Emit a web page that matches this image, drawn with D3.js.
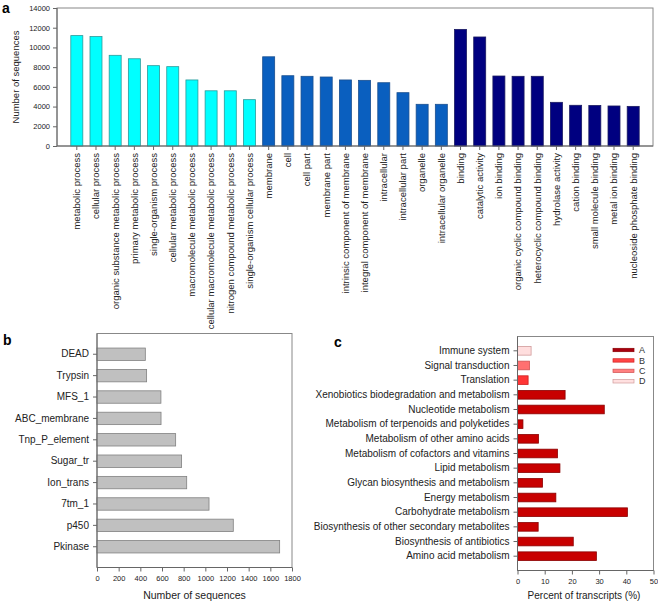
<!DOCTYPE html>
<html><head><meta charset="utf-8">
<script src="https://cdn.jsdelivr.net/npm/d3@7"></script>
<style>body{margin:0;background:#fff}svg{font-family:"Liberation Sans",Arial,sans-serif}</style>
</head><body><svg id="c" width="658" height="602"></svg>
<script>
// Panel a
const goCategories = ["metabolic process","cellular process","organic substance metabolic process","primary metabolic process","single-organism process","cellular metabolic process","macromolecule metabolic process","cellular macromolecule metabolic process","nitrogen compound metabolic process","single-organism cellular process","membrane","cell","cell part","membrane part","intrinsic component of membrane","integral component of membrane","intracellular","intracellular part","organelle","intracellular organelle","binding","catalytic activity","ion binding","organic cyclic compound binding","heterocyclic compound binding","hydrolase activity","cation binding","small molecule binding","metal ion binding","nucleoside phosphate binding"];
const goValues = [11200,11100,9200,8850,8150,8050,6700,5600,5600,4700,9050,7130,7070,7000,6700,6660,6420,5410,4230,4230,11830,11060,7100,7070,7070,4430,4130,4110,4060,4020];
const goGroups = ["BP","BP","BP","BP","BP","BP","BP","BP","BP","BP","CC","CC","CC","CC","CC","CC","CC","CC","CC","CC","MF","MF","MF","MF","MF","MF","MF","MF","MF","MF"];
const goTicks = [0,2000,4000,6000,8000,10000,12000,14000];
// Panel b
const domains = ["DEAD","Trypsin","MFS_1","ABC_membrane","Tnp_P_element","Sugar_tr","Ion_trans","7tm_1","p450","Pkinase"];
const domainValues = [446,458,590,591,726,781,828,1034,1258,1686];
const domainTicks = [0,200,400,600,800,1000,1200,1400,1600,1800];
// Panel c
const pathways = ["Immune system","Signal transduction","Translation","Xenobiotics biodegradation and metabolism","Nucleotide metabolism","Metabolism of terpenoids and polyketides","Metabolism of other amino acids","Metabolism of cofactors and vitamins","Lipid metabolism","Glycan biosynthesis and metabolism","Energy metabolism","Carbohydrate metabolism","Biosynthesis of other secondary metabolites","Biosynthesis of antibiotics","Amino acid metabolism"];
const pathwayValues = [5.0,4.4,3.9,17.5,31.9,2.0,7.7,14.7,15.6,9.2,14.1,40.4,7.6,20.5,29.0];
const pathwayClass = ["D","C","B","A","A","A","A","A","A","A","A","A","A","A","A"];
const classes = ["A","B","C","D"];
const pathwayTicks = [0,10,20,30,40,50];

const svg = d3.select("#c");
const axisCol = "#666", frameCol = "#888";
const fmt = d3.format("d");

function styleAxis(g){
  g.selectAll(".domain").remove();
  g.selectAll("line").attr("stroke",axisCol);
  g.selectAll("text").attr("fill","#222");
}

// ---------- Panel a ----------
{
  const L=57,R=653,T=8,B=146;
  const x = d3.scaleBand().domain(goCategories).range([L,R]).paddingInner(0.375).paddingOuter(0.72);
  const y = d3.scaleLinear().domain([0,14000]).range([B,T]);
  const fill = {BP:"#00ffff",CC:"#0a5fbf",MF:"#000080"};
  const stroke = {BP:"#2a9a9a",CC:"#1a4f8f",MF:"#1a1a60"};
  svg.append("rect").attr("x",L).attr("y",T).attr("width",R-L).attr("height",B-T).attr("fill","none").attr("stroke",frameCol);
  svg.append("g").selectAll("rect").data(goCategories).join("rect")
    .attr("x",d=>x(d)).attr("width",x.bandwidth())
    .attr("y",(d,i)=>y(goValues[i])).attr("height",(d,i)=>B-y(goValues[i]))
    .attr("fill",(d,i)=>fill[goGroups[i]]).attr("stroke",(d,i)=>stroke[goGroups[i]]).attr("stroke-width",0.8);
  const ya = svg.append("g").attr("transform",`translate(${L},0)`).call(d3.axisLeft(y).tickValues(goTicks).tickFormat(fmt).tickSize(4).tickPadding(3));
  styleAxis(ya); ya.selectAll("text").attr("font-size","7.5px");
  svg.append("line").attr("x1",L).attr("x2",L).attr("y1",T).attr("y2",B).attr("stroke",axisCol);
  const xa = svg.append("g").attr("transform",`translate(0,${B})`).call(d3.axisBottom(x).tickSize(4).tickPadding(3));
  styleAxis(xa);
  xa.selectAll("text").attr("font-size","9.5px").attr("text-anchor","end")
    .attr("transform","rotate(-90)").attr("x",-7).attr("y",0).attr("dy","0.35em");
  svg.append("line").attr("x1",L).attr("x2",R).attr("y1",B).attr("y2",B).attr("stroke",axisCol);
  svg.append("text").attr("transform",`translate(19,${(T+B)/2}) rotate(-90)`).attr("text-anchor","middle")
    .attr("font-size","9.5px").attr("fill","#222").text("Number of sequences");
  svg.append("text").attr("x",2).attr("y",13).attr("font-size","14px").attr("font-weight","bold").text("a");
}

// ---------- Panel b ----------
{
  const L=97,R=292,T=333.5,B=567.5;
  const y = d3.scaleBand().domain(domains).range([T,B]).paddingInner(0.42).paddingOuter(0.68);
  const x = d3.scaleLinear().domain([0,1800]).range([L,R]);
  svg.append("rect").attr("x",L).attr("y",T).attr("width",R-L).attr("height",B-T).attr("fill","none").attr("stroke",frameCol);
  svg.append("g").selectAll("rect").data(domains).join("rect")
    .attr("y",d=>y(d)).attr("height",y.bandwidth()).attr("x",L)
    .attr("width",(d,i)=>x(domainValues[i])-L).attr("fill","#c0c0c0").attr("stroke","#808080").attr("stroke-width",0.8);
  const ya = svg.append("g").attr("transform",`translate(${L},0)`).call(d3.axisLeft(y).tickSize(4).tickPadding(4));
  styleAxis(ya); ya.selectAll("text").attr("font-size","10px");
  const xa = svg.append("g").attr("transform",`translate(0,${B})`).call(d3.axisBottom(x).tickValues(domainTicks).tickFormat(fmt).tickSize(4).tickPadding(4));
  styleAxis(xa); xa.selectAll("text").attr("font-size","7.5px");
  svg.append("line").attr("x1",L).attr("x2",L).attr("y1",T).attr("y2",B).attr("stroke",axisCol);
  svg.append("line").attr("x1",L).attr("x2",R).attr("y1",B).attr("y2",B).attr("stroke",axisCol);
  svg.append("text").attr("x",(L+R)/2).attr("y",599).attr("text-anchor","middle").attr("font-size","10.5px").attr("fill","#222").text("Number of sequences");
  svg.append("text").attr("x",3).attr("y",345).attr("font-size","14px").attr("font-weight","bold").text("b");
}

// ---------- Panel c ----------
{
  const L=517.5,R=653.5,T=336.5,B=570.5;
  const y = d3.scaleBand().domain(pathways).range([T,B]).paddingInner(0.41).paddingOuter(0.68);
  const x = d3.scaleLinear().domain([0,50]).range([L,R]);
  const fill = {A:"#c80000",B:"#ff3535",C:"#ff7070",D:"#ffdede"};
  const stroke = {A:"#8a0000",B:"#d02020",C:"#d05050",D:"#d09a9a"};
  svg.append("rect").attr("x",L).attr("y",T).attr("width",R-L).attr("height",B-T).attr("fill","none").attr("stroke",frameCol);
  svg.append("g").selectAll("rect").data(pathways).join("rect")
    .attr("y",d=>y(d)).attr("height",y.bandwidth()).attr("x",L)
    .attr("width",(d,i)=>x(pathwayValues[i])-L)
    .attr("fill",(d,i)=>fill[pathwayClass[i]]).attr("stroke",(d,i)=>stroke[pathwayClass[i]]).attr("stroke-width",0.8);
  const ya = svg.append("g").attr("transform",`translate(${L},0)`).call(d3.axisLeft(y).tickSize(4).tickPadding(4));
  styleAxis(ya); ya.selectAll("text").attr("font-size","10px");
  const xa = svg.append("g").attr("transform",`translate(0,${B})`).call(d3.axisBottom(x).tickValues(pathwayTicks).tickFormat(fmt).tickSize(4).tickPadding(4));
  styleAxis(xa); xa.selectAll("text").attr("font-size","7.5px");
  svg.append("line").attr("x1",L).attr("x2",L).attr("y1",T).attr("y2",B).attr("stroke",axisCol);
  svg.append("line").attr("x1",L).attr("x2",R).attr("y1",B).attr("y2",B).attr("stroke",axisCol);
  svg.append("text").attr("x",584).attr("y",599).attr("text-anchor","middle").attr("font-size","10px").attr("fill","#222").text("Percent of transcripts (%)");
  svg.append("text").attr("x",334).attr("y",347).attr("font-size","14px").attr("font-weight","bold").text("c");
  // legend
  const lg = svg.append("g");
  const ly = d3.scalePoint().domain(classes).range([350,381.3]);
  const legFill = {A:"#a80010",B:"#ff4545",C:"#ff8080",D:"#ffe0e0"};
  lg.selectAll("rect").data(classes).join("rect")
    .attr("x",613).attr("width",21).attr("y",d=>ly(d)-1.7).attr("height",3.4)
    .attr("fill",d=>legFill[d]).attr("stroke",d=>stroke[d]).attr("stroke-width",0.7);
  lg.selectAll("text").data(classes).join("text")
    .attr("x",639).attr("y",d=>ly(d)).attr("dy","0.35em").attr("font-size","9px").attr("fill","#333").text(d=>d);
}
</script></body></html>
